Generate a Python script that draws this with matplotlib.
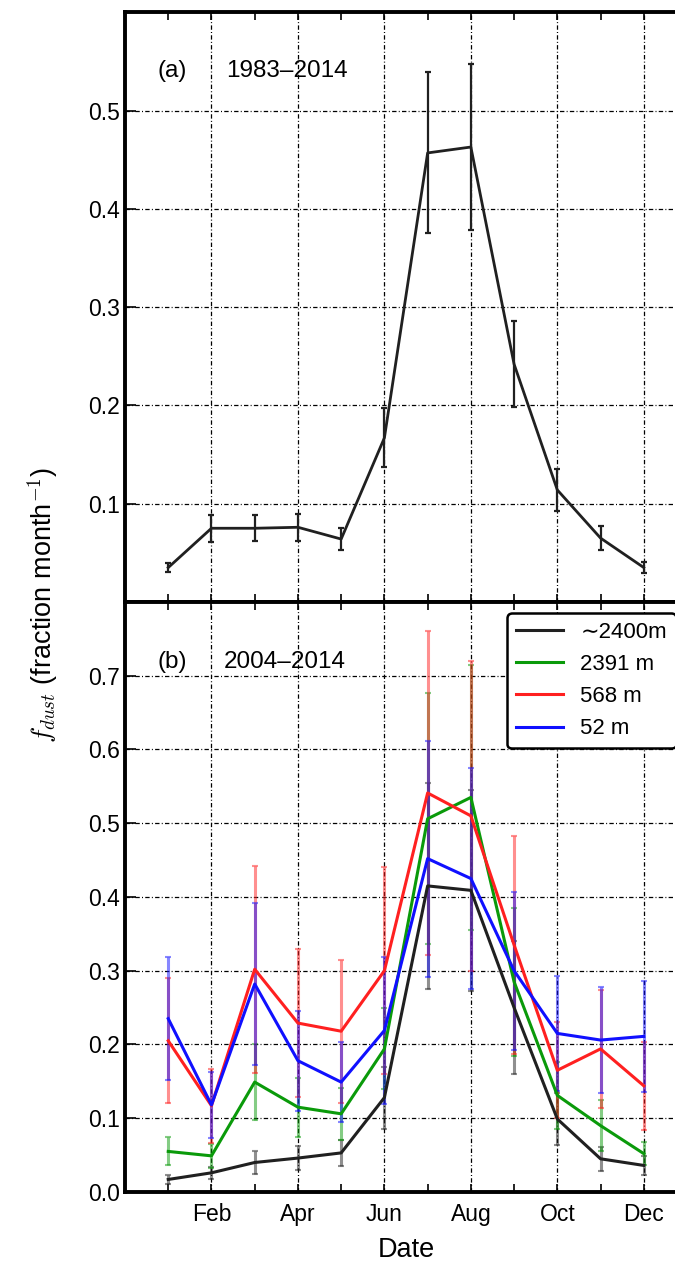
import matplotlib
matplotlib.use('Agg')
import matplotlib.pyplot as plt

plt.rcParams['font.family'] = ['Liberation Sans', 'DejaVu Sans']
plt.rcParams['mathtext.fontset'] = 'cm'

# months 1..12
months = [1, 2, 3, 4, 5, 6, 7, 8, 9, 10, 11, 12]
month_ticks = [2, 4, 6, 8, 10, 12]
month_labels = ['Feb', 'Apr', 'Jun', 'Aug', 'Oct', 'Dec']

# (a) 1983-2014
f_a = [0.035, 0.075, 0.075, 0.076, 0.064, 0.167, 0.457, 0.463, 0.242, 0.114, 0.065, 0.035]
err_a = [0.005, 0.014, 0.013, 0.014, 0.011, 0.030, 0.082, 0.084, 0.044, 0.021, 0.012, 0.006]

# (b) 2004-2014
labels_b = ['\u223c2400m', '2391 m', '568 m', '52 m']
f_2400 = [0.017, 0.026, 0.040, 0.046, 0.053, 0.128, 0.415, 0.409, 0.250, 0.099, 0.045, 0.036]
err_2400 = [0.006, 0.008, 0.015, 0.016, 0.018, 0.042, 0.140, 0.136, 0.090, 0.035, 0.016, 0.013]
f_2391 = [0.055, 0.049, 0.149, 0.115, 0.106, 0.194, 0.506, 0.535, 0.285, 0.131, 0.090, 0.052]
err_2391 = [0.019, 0.016, 0.052, 0.040, 0.035, 0.055, 0.170, 0.180, 0.100, 0.045, 0.035, 0.016]
f_568 = [0.205, 0.117, 0.302, 0.229, 0.218, 0.300, 0.541, 0.510, 0.335, 0.165, 0.194, 0.144]
err_568 = [0.085, 0.050, 0.140, 0.100, 0.097, 0.140, 0.220, 0.210, 0.148, 0.065, 0.080, 0.060]
f_52 = [0.235, 0.118, 0.282, 0.178, 0.149, 0.219, 0.452, 0.425, 0.300, 0.215, 0.206, 0.211]
err_52 = [0.083, 0.045, 0.110, 0.068, 0.054, 0.100, 0.160, 0.150, 0.107, 0.078, 0.072, 0.075]

colors_b = ['#202020', '#0a9a0a', '#ff2020', '#1010ff']

fig = plt.figure(figsize=(6.75, 12.67), dpi=100)
ax1 = fig.add_axes([0.1852, 0.5249, 0.8326, 0.4653])
ax2 = fig.add_axes([0.1852, 0.0592, 0.8326, 0.4657])

grid_style = dict(color='k', linestyle=(0, (3.5, 1.8, 0.8, 1.8)), linewidth=0.9)

for ax in (ax1, ax2):
    ax.set_xlim(0, 13)
    ax.set_xticks(month_ticks)
    ax.set_xticks(months, minor=True)
    ax.tick_params(axis='x', which='both', direction='in', top=True, length=6, width=1.2)
    ax.tick_params(axis='y', which='both', direction='in', length=8, width=1.2, labelsize=16.5)
    ax.tick_params(axis='x', labelsize=16.5, pad=8)
    for s in ax.spines.values():
        s.set_linewidth(2.8)
    ax.grid(True, which='major', **grid_style)
    ax.set_axisbelow(True)

# panel (a)
ax1.errorbar(months, f_a, yerr=err_a, color='#202020', lw=2, elinewidth=1.6,
             capsize=2.5, capthick=1.6)
ax1.set_ylim(0, 0.6)
ax1.set_yticks([0.1, 0.2, 0.3, 0.4, 0.5])
ax1.set_yticklabels(['0.1', '0.2', '0.3', '0.4', '0.5'])
ax1.tick_params(axis='x', labelbottom=False)
ax1.text(0.057, 0.90, '(a)', transform=ax1.transAxes, fontsize=17.5, va='center')
ax1.text(0.18, 0.90, '1983\u20132014', transform=ax1.transAxes, fontsize=17.5, va='center')

# panel (b)
series_b = [(f_2400, err_2400), (f_2391, err_2391), (f_568, err_568), (f_52, err_52)]
for (vals, errs), c in zip(series_b, colors_b):
    ax2.errorbar(months, vals, yerr=errs, color=c, lw=0, elinewidth=2.2,
                 capsize=2, capthick=1.5, alpha=0.5)
for (vals, errs), c, lab in zip(series_b, colors_b, labels_b):
    ax2.plot(months, vals, color=c, lw=2.2, label=lab)
ax2.set_ylim(0, 0.8)
ax2.set_yticks([0.0, 0.1, 0.2, 0.3, 0.4, 0.5, 0.6, 0.7])
ax2.set_yticklabels(['0.0', '0.1', '0.2', '0.3', '0.4', '0.5', '0.6', '0.7'])
ax2.set_xticklabels(month_labels)
ax2.set_xlabel('Date', fontsize=19.5, labelpad=8)
ax2.text(0.057, 0.898, '(b)', transform=ax2.transAxes, fontsize=17.5, va='center')
ax2.text(0.175, 0.898, '2004\u20132014', transform=ax2.transAxes, fontsize=17.5, va='center')

leg = ax2.legend(loc='upper right', fontsize=16, handlelength=2.1, labelspacing=0.5,
                 borderaxespad=0.5, framealpha=1, borderpad=0.4, handletextpad=0.8)
leg.get_frame().set_edgecolor('k')
leg.get_frame().set_linewidth(1.8)

fig.text(0.064, 0.523, '$f_{dust}$ (fraction month$^{-1}$)', rotation=90,
         fontsize=19.5, ha='center', va='center')

fig.savefig('out.png', dpi=100)
